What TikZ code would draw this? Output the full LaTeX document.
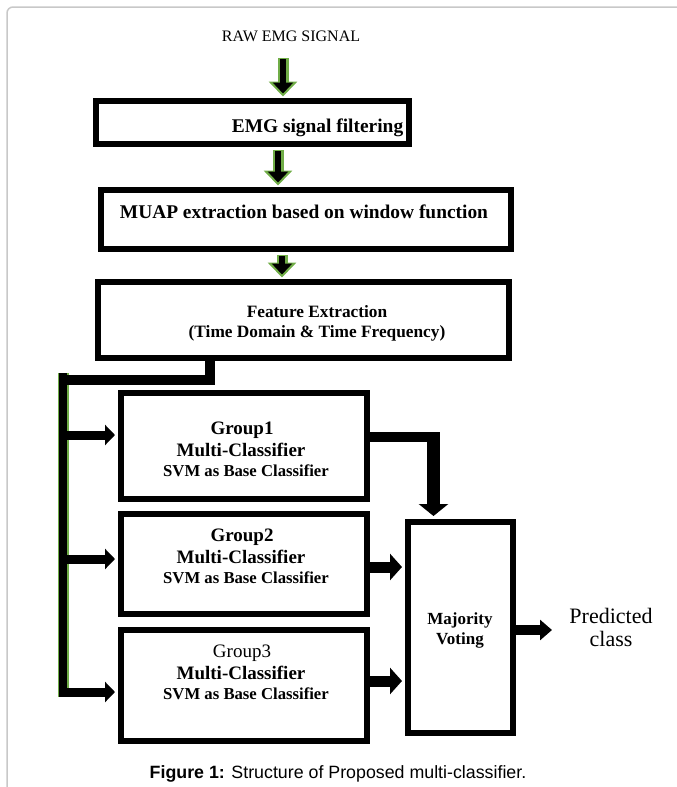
\documentclass[tikz,border=0pt]{standalone}
\usepackage{fontspec}
\setmainfont{Liberation Serif}
\newfontfamily\capfont{Liberation Sans}
\usetikzlibrary{arrows.meta}
\definecolor{ggreen}{RGB}{112,173,71}
\definecolor{framegray}{RGB}{200,200,200}
\begin{document}
\begin{tikzpicture}[x=1pt,y=-1pt,
  box/.style={draw, line width=6pt, inner sep=0pt},
  txt/.style={anchor=base, inner sep=0pt},
  garrowg/.style={draw=ggreen, fill=ggreen, line width=11pt, -{Triangle[width=28pt,length=15pt]}, shorten >=1.5pt, shorten <=3pt},
  garrowb/.style={draw=black, fill=black, line width=6.5pt, -{Triangle[width=20pt,length=11pt]}, shorten >=4.5pt, shorten <=4pt},
  gline/.style={line width=8pt, preaction={draw=ggreen, line width=11pt}},
  barrow/.style={line width=9pt, -{Triangle[width=20pt,length=10pt]}, shorten >=3pt},
  harrow/.style={line width=11pt, -{Triangle[width=26pt,length=12pt]}, shorten >=3pt},
  varrow/.style={line width=13pt, -{Triangle[width=29pt,length=12pt]}, shorten >=3pt},
  oarrow/.style={line width=10pt, -{Triangle[width=20pt,length=12pt]}},
  bar/.style={line width=10pt}
]
\useasboundingbox (0,0) rectangle (677,787);
\draw[framegray, line width=1.5pt, rounded corners=6pt] (7,787) -- (7,7) -- (677,7);

% boxes
\node[box, minimum width=313pt, minimum height=43pt] (b1) at (252.5,122.5) {};
\node[box, minimum width=410pt, minimum height=59pt] (b2) at (306,219.5) {};
\node[box, minimum width=411pt, minimum height=76pt] (b3) at (303.5,320) {};
\node[box, minimum width=246pt, minimum height=106pt] (g1) at (244,446) {};
\node[box, minimum width=246pt, minimum height=100pt] (g2) at (244,564) {};
\node[box, minimum width=246pt, minimum height=111pt] (g3) at (244,685.5) {};
\node[box, minimum width=105pt, minimum height=211pt] (vote) at (460.5,627.5) {};

% texts
\node[txt] (raw) at (291,41) {\fontsize{16}{19}\selectfont RAW EMG SIGNAL};
\node[txt] (t1) at (317.5,132) {\fontsize{19.4}{22}\selectfont\bfseries EMG signal filtering};
\node[txt] (t2) at (304,218) {\fontsize{19.4}{22}\selectfont\bfseries MUAP extraction based on window function};
\node[txt] (t3a) at (317,317) {\fontsize{17.3}{20}\selectfont\bfseries Feature Extraction};
\node[txt] (t3b) at (317,337) {\fontsize{17.3}{20}\selectfont\bfseries (Time Domain \& Time Frequency)};

\node[txt] (g1a) at (242,434) {\fontsize{19}{22}\selectfont\bfseries Group1};
\node[txt] (g1b) at (241,456) {\fontsize{19}{22}\selectfont\bfseries Multi-Classifier};
\node[txt] (g1c) at (246,476) {\fontsize{16.7}{20}\selectfont\bfseries SVM as Base Classifier};
\node[txt] (g2a) at (242,541) {\fontsize{19}{22}\selectfont\bfseries Group2};
\node[txt] (g2b) at (241,563) {\fontsize{19}{22}\selectfont\bfseries Multi-Classifier};
\node[txt] (g2c) at (246,583) {\fontsize{16.7}{20}\selectfont\bfseries SVM as Base Classifier};
\node[txt] (g3a) at (242,657) {\fontsize{19}{22}\selectfont Group3};
\node[txt] (g3b) at (241,679) {\fontsize{19}{22}\selectfont\bfseries Multi-Classifier};
\node[txt] (g3c) at (246,699) {\fontsize{16.7}{20}\selectfont\bfseries SVM as Base Classifier};

\node[txt] (maj) at (460,624) {\fontsize{17}{20}\selectfont\bfseries Majority};
\node[txt] (vot) at (460,644) {\fontsize{17}{20}\selectfont\bfseries Voting};
\node[txt] (pred) at (611,623) {\fontsize{22}{25}\selectfont Predicted};
\node[txt] (cls) at (611,646) {\fontsize{22}{25}\selectfont class};

\node[txt] (cap) at (338,778) {\capfont\fontsize{17.8}{20}\selectfont\textbf{Figure 1:} Structure of Proposed multi-classifier.};

% connectors
\coordinate (a1s) at (283,55);
\coordinate (a2x) at (278,0);
\coordinate (a3x) at (282,0);
\draw[garrowg] (a1s) -- (a1s |- b1.north);
\draw[garrowb] (a1s) -- (a1s |- b1.north);
\draw[garrowg] (a2x |- b1.south) -- (a2x |- b2.north);
\draw[garrowb] (a2x |- b1.south) -- (a2x |- b2.north);
\draw[garrowg] (a3x |- b2.south) -- (a3x |- b3.north);
\draw[garrowb] (a3x |- b2.south) -- (a3x |- b3.north);

\coordinate (busx) at (210,0);
\coordinate (bend) at (210,380);
\coordinate (bustop) at (63,373);
\coordinate (busbot) at (63,697);
\draw[gline] (bustop) -- (busbot);
\draw[bar] (busx |- b3.south) -- (bend) -- (bustop |- bend);

\coordinate (br1) at (63,435);
\coordinate (br2) at (63,559);
\coordinate (br3) at (63,692);
\draw[barrow] (br1) -- (br1 -| g1.west);
\draw[barrow] (br2) -- (br2 -| g2.west);
\draw[barrow] (br3) -- (br3 -| g3.west);

\coordinate (h1) at (440,437);
\coordinate (v1) at (433.5,432);
\draw[bar] (g1.east |- h1) -- (h1);
\draw[varrow] (v1) -- (v1 |- vote.north);

\coordinate (h2) at (0,567);
\coordinate (h3) at (0,681);
\draw[harrow] (g2.east |- h2) -- (vote.west |- h2);
\draw[harrow] (g3.east |- h3) -- (vote.west |- h3);

\coordinate (outend) at (552,630);
\draw[oarrow] (vote.east |- outend) -- (outend);
\end{tikzpicture}
\end{document}
